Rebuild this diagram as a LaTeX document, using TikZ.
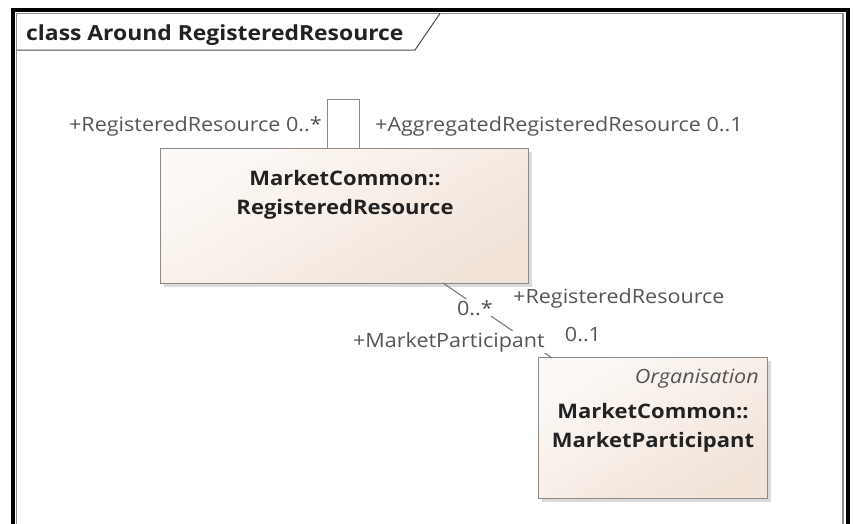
\documentclass[tikz,border=0pt]{standalone}
\usepackage{fontspec}
\setmainfont[FakeStretch=1.1]{Open Sans}
\usetikzlibrary{calc}
\definecolor{lbl}{HTML}{555555}
\definecolor{ttl}{HTML}{222222}
\definecolor{bord}{HTML}{8A8A8A}
\definecolor{filltop}{HTML}{FDF9F6}
\definecolor{fillbot}{HTML}{F1E3D8}
\tikzset{
  lab/.style={text=lbl, inner sep=1pt, fill=white, font=\fontsize{19.6}{22}\selectfont},
  cname/.style={text=ttl, font=\fontsize{20}{29}\bfseries\selectfont, align=center},
  classbox/.style={draw=bord, line width=1pt, top color=filltop, bottom color=fillbot, shading angle=30},
  shadowbox/.style={fill=black!25, opacity=0.55},
}
\begin{document}
\begin{tikzpicture}[x=1pt,y=-1pt]
\useasboundingbox (0,0) rectangle (854,523);
\fill[white] (0,0) rectangle (854,523);
% frame
\draw[black!45, line width=1.2pt] (16.5,530) -- (16.5,13.5) -- (843,13.5) -- (843,530);
\draw[black, line width=4pt] (12.5,530) -- (12.5,10) -- (847.5,10) -- (847.5,530);
\draw[black!70, line width=1pt] (16.5,50) -- (415,50) -- (440,13.5);
\node[anchor=base west, text=ttl, font=\fontsize{20.8}{24}\bfseries\selectfont, inner sep=0pt] (title) at (26,40) {class Around RegisteredResource};
% classes
\fill[shadowbox] (164,152) rectangle (532,287);
\node[classbox, minimum width=368pt, minimum height=135pt, anchor=north west, inner sep=0pt] (rr) at (160,148) {};
\node[cname] (rrname) at (345,195) {MarketCommon::\\RegisteredResource};
\fill[shadowbox] (542,361) rectangle (771,502);
\node[classbox, minimum width=229pt, minimum height=141pt, anchor=north west, inner sep=0pt] (mp) at (538,357) {};
\node[anchor=base east, text=lbl, font=\fontsize{19.6}{22}\itshape\selectfont, inner sep=0pt] (org) at (759,383) {Organisation};
\node[cname] (mpname) at (653,428) {MarketCommon::\\MarketParticipant};
% self association
\coordinate (s1) at (327,148);
\coordinate (s2) at (359,148);
\draw[bord, line width=1pt] (s1) -- ++(0,-49) -| (s2);
\node[lab, anchor=base east] (l1) at (323,131) {+RegisteredResource 0..*};
\node[lab, anchor=base west] (l2) at (374,131) {+AggregatedRegisteredResource 0..1};
% association
\coordinate (a1) at (443,283);
\coordinate (a2) at (552,358);
\draw[black!55, line width=1pt] (a1) -- (a2);
\node[lab, anchor=base] (m1) at (475,315) {0..*};
\node[lab, anchor=base west] (r1) at (512,303) {+RegisteredResource};
\node[lab, anchor=base] (m2) at (583,341) {0..1};
\node[lab, anchor=base east] (r2) at (546,347) {+MarketParticipant};
\end{tikzpicture}
\end{document}
